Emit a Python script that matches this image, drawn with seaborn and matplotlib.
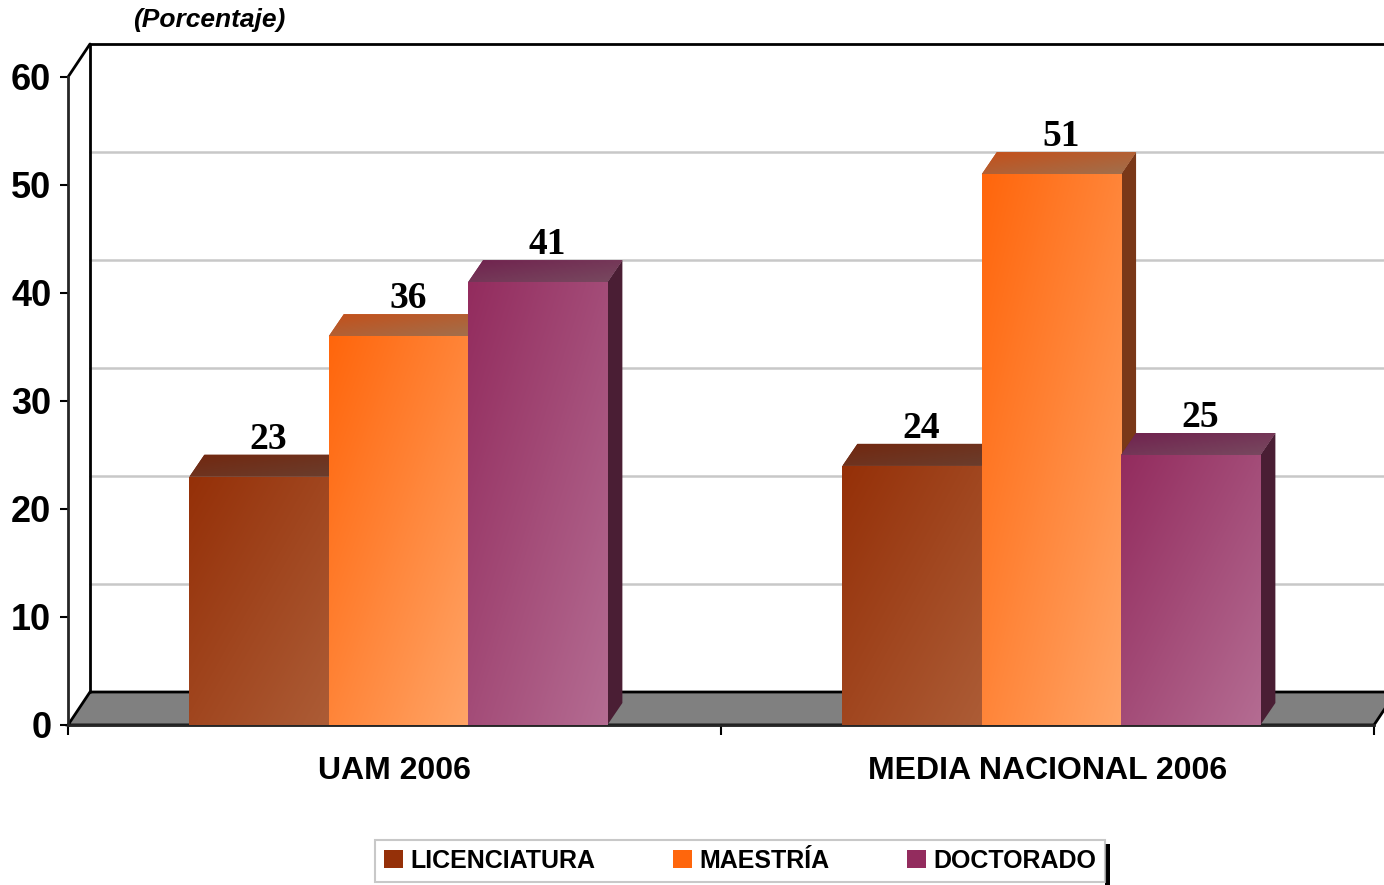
import numpy as np
import pandas as pd
import matplotlib
matplotlib.use('Agg')
import matplotlib.pyplot as plt
import seaborn as sns
from matplotlib.colors import LinearSegmentedColormap
from matplotlib.patches import Polygon, Rectangle, Patch
from matplotlib.transforms import IdentityTransform, ScaledTranslation

# Datos
categorias = ['UAM 2006', 'MEDIA NACIONAL 2006']
niveles = ['LICENCIATURA', 'MAESTRÍA', 'DOCTORADO']
licenciatura = [23, 24]
maestria = [36, 51]
doctorado = [41, 25]
ticks_y = [0, 10, 20, 30, 40, 50, 60]

df = pd.DataFrame({
    'grupo': categorias * 3,
    'nivel': [niveles[0]] * 2 + [niveles[1]] * 2 + [niveles[2]] * 2,
    'valor': licenciatura + maestria + doctorado,
})

# colores: cara frontal (inicio, fin), lateral, superior (inicio, fin)
frente = {'LICENCIATURA': ('#953008', '#AC5C36'),
          'MAESTRÍA': ('#FF660C', '#FFA466'),
          'DOCTORADO': ('#932C5E', '#B46C92')}
lateral = {'LICENCIATURA': '#5C2410', 'MAESTRÍA': '#7A3818', 'DOCTORADO': '#4A1E34'}
arriba = {'LICENCIATURA': ('#722810', '#6A3E2E'),
          'MAESTRÍA': ('#C4501A', '#A0704E'),
          'DOCTORADO': ('#70224E', '#784A60')}
medio = {k: v[0] for k, v in frente.items()}

sns.set_style('white')
plt.rcParams['font.family'] = ['Liberation Sans', 'DejaVu Sans']
plt.rcParams['text.color'] = 'black'
plt.rcParams['xtick.color'] = 'black'
plt.rcParams['ytick.color'] = 'black'
plt.rcParams['axes.labelcolor'] = 'black'

W, H = 1384, 885
fig = plt.figure(figsize=(W / 100, H / 100), dpi=100)
ax = fig.add_axes([68 / W, (H - 725) / H, 1306 / W, 648 / H])

sns.barplot(data=df, x='grupo', y='valor', hue='nivel', order=categorias,
            hue_order=niveles, palette=medio, width=0.64, legend=False,
            saturation=1, ax=ax, zorder=3)
ax.set_xlim(-0.5, 1.5)
ax.set_ylim(0, 60)

# desplazamientos 3D en pixeles
PW_DX, PW_DY = 22, 33   # pared del fondo
B_DX, B_DY = 15, 22     # profundidad de barras
NUDGE = 0.006           # el grupo de barras esta un poco a la derecha


def px(x, y):
    return ax.transData.transform((x, y))


def poly(pts, **kw):
    p = Polygon(pts, closed=True, transform=IdentityTransform(), **kw)
    ax.add_patch(p)
    return p


def grad_img(patch, c0, c1, z):
    cmap = LinearSegmentedColormap.from_list('g', [c0, c1])
    n = 64
    i, j = np.mgrid[0:n, 0:n]
    g = (i + j) / (2.0 * (n - 1))
    bb = patch.get_window_extent()
    x0, y0 = ax.transData.inverted().transform((bb.x0, bb.y0))
    x1, y1 = ax.transData.inverted().transform((bb.x1, bb.y1))
    im = ax.imshow(g, cmap=cmap, extent=(x0, x1, y0, y1), origin='upper',
                   aspect='auto', zorder=z, interpolation='bilinear')
    im.set_clip_path(patch)


for rect in ax.patches:
    rect.set_x(rect.get_x() + NUDGE)

fig.canvas.draw()

# suelo gris
fl, fr = px(-0.5, 0), px(1.5, 0)
poly([fl, fr, fr + [PW_DX, PW_DY], fl + [PW_DX, PW_DY]],
     facecolor='#808080', edgecolor='black', lw=2, zorder=1, clip_on=False)

# pared del fondo: lineas de cuadricula
off = ScaledTranslation(PW_DX / 100, PW_DY / 100, fig.dpi_scale_trans)
for v in ticks_y[1:-1]:
    ax.plot([-0.5, 1.6], [v, v], color='#C8C8C8', lw=1.8,
            transform=ax.transData + off, clip_on=False, zorder=0.5)
ax.plot([-0.5, -0.5, 1.6], [0, 60, 60], color='black', lw=2,
        transform=ax.transData + off, clip_on=False, zorder=2)
tl = px(-0.5, 60)
ax.plot([tl[0], tl[0] + PW_DX], [tl[1], tl[1] + PW_DY], color='black', lw=2,
        transform=IdentityTransform(), clip_on=False, zorder=2)

# barras 3D
barras = []
for nivel, cont in zip(niveles, ax.containers):
    for rect in cont:
        barras.append((rect.get_x(), nivel, rect))
barras.sort(key=lambda b: b[0])

for k, (x0, nivel, rect) in enumerate(barras):
    z = 3 + k * 0.1
    rect.set_zorder(z)
    rect.set_edgecolor('none')
    x1 = x0 + rect.get_width()
    h = rect.get_height()
    a, b = px(x0, h), px(x1, h)
    c = px(x1, 0)
    d = [B_DX, B_DY]
    tope = poly([a, b, b + d, a + d], facecolor=arriba[nivel][0], edgecolor='none',
                zorder=z + 0.01, clip_on=False)
    grad_img(tope, arriba[nivel][0], arriba[nivel][1], z + 0.02)
    poly([b, c, c + d, b + d], facecolor=lateral[nivel], edgecolor='none',
         zorder=z + 0.01, clip_on=False)
    grad_img(rect, frente[nivel][0], frente[nivel][1], z + 0.03)
    ax.text(x0 + rect.get_width() / 2, h, str(int(h)),
            transform=ax.transData + ScaledTranslation((B_DX / 2 + 2) / 100, (B_DY - 2) / 100,
                                                       fig.dpi_scale_trans),
            ha='center', va='bottom', fontsize=27, fontweight='bold',
            family='Liberation Serif', zorder=10)

ax.set_xlim(-0.5, 1.5)
ax.set_ylim(0, 60)

# ejes
sns.despine(ax=ax, top=True, right=True)
ax.spines['left'].set_linewidth(2)
ax.spines['bottom'].set_linewidth(2)
ax.spines['left'].set_zorder(2)
ax.spines['bottom'].set_zorder(2)
ax.set_yticks(ticks_y)
ax.set_yticklabels([str(t) for t in ticks_y], fontsize=26, fontweight='bold')
ax.tick_params(axis='y', direction='out', length=6, width=1.5, pad=6, left=True)
ax.set_xticks([0, 1])
ax.set_xticklabels(categorias, fontsize=23, fontweight='bold')
ax.tick_params(axis='x', length=0, pad=22)
ax.set_xticks([-0.5, 0.5, 1.5], minor=True)
ax.tick_params(axis='x', which='minor', direction='out', length=7, width=1.5, bottom=True)
ax.set_xlabel('')
ax.set_ylabel('')
ax.grid(False)

fig.text(133 / W, 1 - 20 / H, '(Porcentaje)', fontsize=19, fontweight='bold',
         style='italic', ha='left', va='center')

# leyenda
handles = [Patch(facecolor=frente[n][0], edgecolor='none') for n in niveles]
leg = fig.legend(handles, niveles, loc='center', bbox_to_anchor=(740 / W, 1 - 861 / H),
                 ncol=3, frameon=True, fancybox=False, edgecolor='#BBBBBB',
                 prop={'weight': 'bold', 'size': 18}, handlelength=0.75,
                 handleheight=0.75, handletextpad=0.3, columnspacing=3.1,
                 borderpad=0.35)
leg.get_frame().set_linewidth(1.5)
fig.canvas.draw()
lb = leg.get_window_extent()
fig.patches.append(Rectangle((lb.x1, 0), 5, lb.y1 - 4, transform=IdentityTransform(),
                             facecolor='black', edgecolor='none', figure=fig))

fig.savefig('out.png', dpi=100)
